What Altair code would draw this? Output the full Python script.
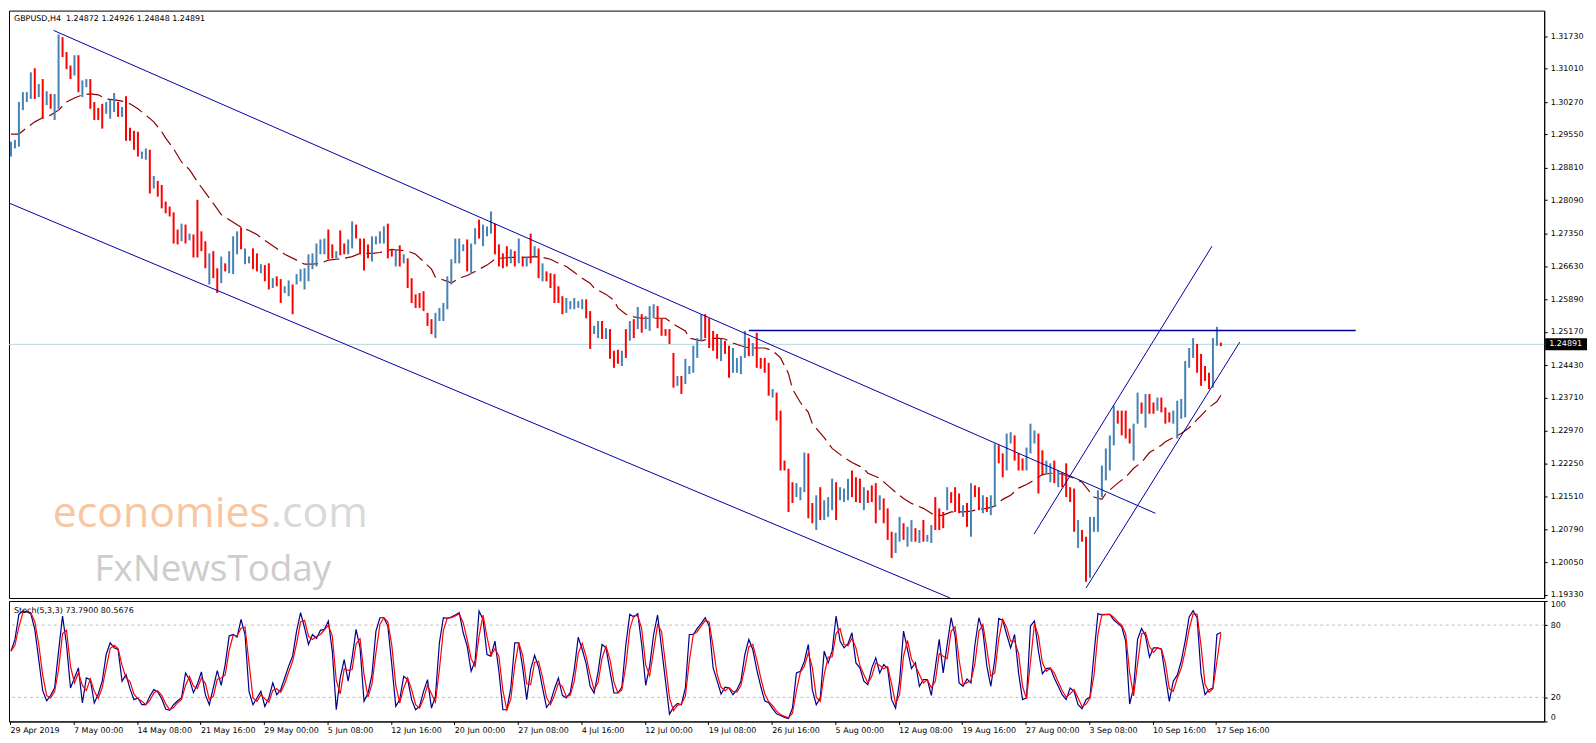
import json
import altair as alt
import pandas as pd

# ---------------- data ----------------
# H4 bars (merged pairs), highs / lows and direction (u = up bar, d = down bar)
bar_high = [
1.2939,1.2943,1.3027,1.3049,1.3049,1.3093,1.3102,1.3067,1.3078,1.3051,
1.3045,1.3045,1.3177,1.3171,1.3138,1.3108,1.3131,1.3131,1.3075,1.3078,
1.3078,1.3027,1.3014,1.3023,1.3027,1.3032,1.3047,1.3027,1.3016,1.3040,
1.2970,1.2963,1.2961,1.2917,1.2924,1.2921,1.2863,1.2852,1.2843,1.2806,
1.2795,1.2782,1.2744,1.2757,1.2755,1.2735,1.2733,1.2810,1.2740,1.2718,
1.2691,1.2696,1.2658,1.2684,1.2669,1.2696,1.2729,1.2740,1.2749,1.2702,
1.2684,1.2702,1.2691,1.2667,1.2665,1.2669,1.2636,1.2640,1.2634,1.2618,
1.2631,1.2622,1.2645,1.2656,1.2658,1.2689,1.2691,1.2713,1.2722,1.2724,
1.2744,1.2711,1.2696,1.2742,1.2713,1.2722,1.2762,1.2755,1.2724,1.2724,
1.2711,1.2729,1.2729,1.2740,1.2751,1.2757,1.2700,1.2700,1.2709,1.2689,
1.2680,1.2636,1.2600,1.2603,1.2607,1.2559,1.2545,1.2559,1.2570,1.2581,
1.2640,1.2678,1.2724,1.2724,1.2711,1.2722,1.2713,1.2747,1.2766,1.2755,
1.2751,1.2784,1.2757,1.2711,1.2691,1.2707,1.2700,1.2696,1.2724,1.2684,
1.2684,1.2735,1.2707,1.2702,1.2669,1.2651,1.2647,1.2645,1.2618,1.2596,
1.2592,1.2585,1.2592,1.2585,1.2589,1.2589,1.2563,1.2530,1.2541,1.2541,
1.2525,1.2523,1.2475,1.2477,1.2475,1.2523,1.2541,1.2545,1.2572,1.2556,
1.2552,1.2574,1.2578,1.2574,1.2547,1.2523,1.2523,1.2470,1.2419,1.2419,
1.2457,1.2441,1.2486,1.2503,1.2556,1.2556,1.2547,1.2519,1.2512,1.2501,
1.2497,1.2486,1.2481,1.2459,1.2463,1.2519,1.2503,1.2492,1.2515,1.2459,
1.2459,1.2448,1.2390,1.2382,1.2342,1.2231,1.2213,1.2183,1.2181,1.2172,
1.2249,1.2247,1.2137,1.2154,1.2172,1.2143,1.2150,1.2191,1.2183,1.2172,
1.2169,1.2191,1.2209,1.2194,1.2191,1.2172,1.2165,1.2176,1.2181,1.2154,
1.2147,1.2125,1.2073,1.2071,1.2106,1.2092,1.2084,1.2099,1.2081,1.2077,
1.2099,1.2066,1.2088,1.2150,1.2125,1.2117,1.2172,1.2161,1.2172,1.2158,
1.2132,1.2137,1.2181,1.2176,1.2172,1.2154,1.2150,1.2154,1.2269,1.2265,
1.2247,1.2291,1.2294,1.2287,1.2247,1.2236,1.2260,1.2313,1.2298,1.2291,
1.2254,1.2231,1.2225,1.2231,1.2209,1.2205,1.2225,1.2172,1.2169,1.2099,
1.2077,1.2062,1.2106,1.2106,1.2165,1.2220,1.2258,1.2287,1.2353,1.2342,
1.2342,1.2342,1.2302,1.2313,1.2382,1.2360,1.2379,1.2379,1.2360,1.2371,
1.2371,1.2349,1.2338,1.2342,1.2364,1.2368,1.2452,1.2481,1.2503,1.2490,
1.2468,1.2441,1.2426,1.2503,1.2528,1.2493]

bar_low = [
1.2906,1.2924,1.2928,1.3009,1.3027,1.3034,1.3034,1.3038,1.2990,1.3020,
1.3012,1.2987,1.3012,1.3127,1.3100,1.3078,1.3086,1.3049,1.3038,1.3060,
1.3012,1.2987,1.2987,1.2968,1.3001,1.2990,1.3005,1.2994,1.2994,1.2941,
1.2941,1.2921,1.2906,1.2901,1.2899,1.2824,1.2835,1.2817,1.2791,1.2780,
1.2773,1.2713,1.2711,1.2718,1.2713,1.2720,1.2682,1.2682,1.2696,1.2658,
1.2622,1.2636,1.2603,1.2625,1.2651,1.2647,1.2645,1.2689,1.2700,1.2667,
1.2669,1.2656,1.2651,1.2647,1.2629,1.2611,1.2614,1.2618,1.2581,1.2603,
1.2596,1.2556,1.2622,1.2629,1.2611,1.2629,1.2656,1.2662,1.2689,1.2689,
1.2678,1.2680,1.2680,1.2687,1.2689,1.2689,1.2702,1.2724,1.2689,1.2653,
1.2680,1.2673,1.2711,1.2713,1.2713,1.2680,1.2684,1.2662,1.2662,1.2669,
1.2614,1.2581,1.2570,1.2570,1.2563,1.2530,1.2512,1.2503,1.2541,1.2541,
1.2567,1.2622,1.2669,1.2669,1.2696,1.2651,1.2645,1.2711,1.2724,1.2707,
1.2729,1.2735,1.2689,1.2662,1.2658,1.2662,1.2669,1.2662,1.2669,1.2662,
1.2662,1.2669,1.2684,1.2636,1.2629,1.2629,1.2614,1.2581,1.2581,1.2556,
1.2559,1.2567,1.2567,1.2570,1.2567,1.2547,1.2479,1.2512,1.2503,1.2501,
1.2501,1.2457,1.2437,1.2446,1.2441,1.2459,1.2497,1.2503,1.2523,1.2515,
1.2523,1.2519,1.2547,1.2525,1.2508,1.2508,1.2490,1.2393,1.2397,1.2379,
1.2401,1.2423,1.2426,1.2459,1.2497,1.2503,1.2481,1.2475,1.2457,1.2452,
1.2468,1.2415,1.2426,1.2426,1.2423,1.2459,1.2463,1.2463,1.2437,1.2435,
1.2426,1.2375,1.2371,1.2320,1.2209,1.2209,1.2117,1.2137,1.2150,1.2143,
1.2161,1.2103,1.2092,1.2077,1.2099,1.2099,1.2106,1.2121,1.2099,1.2143,
1.2139,1.2143,1.2150,1.2139,1.2137,1.2121,1.2137,1.2139,1.2092,1.2121,
1.2092,1.2055,1.2015,1.2026,1.2051,1.2055,1.2040,1.2051,1.2051,1.2048,
1.2051,1.2051,1.2048,1.2077,1.2077,1.2081,1.2121,1.2137,1.2117,1.2114,
1.2106,1.2084,1.2062,1.2150,1.2121,1.2114,1.2117,1.2110,1.2128,1.2225,
1.2194,1.2209,1.2269,1.2231,1.2209,1.2209,1.2209,1.2247,1.2269,1.2158,
1.2198,1.2202,1.2183,1.2181,1.2172,1.2172,1.2150,1.2139,1.2073,1.2037,
1.2051,1.1962,1.1971,1.2073,1.2073,1.2150,1.2187,1.2209,1.2265,1.2313,
1.2287,1.2280,1.2269,1.2231,1.2313,1.2335,1.2304,1.2335,1.2335,1.2342,
1.2338,1.2313,1.2316,1.2313,1.2280,1.2324,1.2327,1.2437,1.2459,1.2426,
1.2397,1.2408,1.2390,1.2393,1.2486,1.2485]

bar_dir = ("uuuuuududu" "duuddduduu" "dddduuudud" "ddduududdd" "dddududddd"
           "udduduuudu" "uddudduddu" "uduuuuuuuu" "ddudduuddd" "duuuuddudu"
           "ddddddduuu" "uuuuuduudu" "uuddddudud" "udududdddd" "uuuuudduud"
           "udddududud" "uuudddddud" "uuuuuddddu" "dduuuududd" "dduddddduu"
           "udduduuudu" "uudddudddu" "ddduuduudu" "duuddduddd" "ududduduud"
           "duuddduuud" "duududdddu" "dduuuuuuud" "ddduududdu" "ddduuuuuud"
           "ddduud")

# moving average (dashed), read at bar positions
ma_bar = [0,2,4,6,8,10,12,14,16,18,20,22,24,26,28,30,32,34,36,38,
          39,41,43,45,47,49,51,53,56,58,60,62,64,67,69,72,74,76,78,80,
          82,84,86,88,91,93,96,98,100,102,104,106,107,110,111,113,115,117,120,122,
          123,126,128,130,132,134,136,138,140,142,144,146,147,150,152,153,155,157,159,161,
          163,165,167,170,171,174,176,178,180,182,184,186,188,190,192,194,196,197,199,201,
          202,205,207,210,212,215,216,219,221,223,225,227,230,232,233,235,237,240,242,244,
          246,248,250,252,254,256,257,260,262,264,266,268,270,272,273,275,276,279,281,283,
          285,287,290,291,293,295,297,300,302,304,305]
ma_val = [1.2956,1.2956,1.2970,1.2983,1.2992,1.2998,1.3009,1.3027,1.3036,1.3043,
          1.3045,1.3043,1.3034,1.3032,1.3029,1.3023,1.3012,1.2998,1.2983,1.2961,
          1.2947,1.2923,1.2894,1.2877,1.2850,1.2826,1.2802,1.2777,1.2760,1.2749,
          1.2742,1.2733,1.2720,1.2702,1.2689,1.2676,1.2667,1.2667,1.2669,1.2676,
          1.2678,1.2680,1.2684,1.2691,1.2691,1.2693,1.2700,1.2698,1.2696,1.2689,
          1.2673,1.2656,1.2638,1.2629,1.2625,1.2636,1.2642,1.2651,1.2665,1.2678,
          1.2680,1.2682,1.2682,1.2682,1.2684,1.2682,1.2678,1.2669,1.2662,1.2649,
          1.2636,1.2625,1.2614,1.2600,1.2587,1.2570,1.2556,1.2550,1.2547,1.2547,
          1.2547,1.2547,1.2534,1.2519,1.2503,1.2497,1.2501,1.2503,1.2501,1.2492,
          1.2486,1.2481,1.2481,1.2481,1.2475,1.2459,1.2424,1.2390,1.2360,1.2338,
          1.2313,1.2282,1.2258,1.2238,1.2227,1.2214,1.2203,1.2192,1.2176,1.2161,
          1.2147,1.2136,1.2125,1.2114,1.2108,1.2110,1.2117,1.2117,1.2119,1.2123,
          1.2125,1.2130,1.2145,1.2154,1.2170,1.2178,1.2183,1.2200,1.2203,1.2203,
          1.2198,1.2192,1.2183,1.2161,1.2150,1.2145,1.2158,1.2181,1.2194,1.2214,
          1.2227,1.2249,1.2265,1.2273,1.2282,1.2291,1.2304,1.2331,1.2349,1.2362,
          1.2376]

# drawn trend lines: (bar, price) end points
line_name  = ["chan_top", "chan_top", "chan_bot", "chan_bot",
              "rise_top", "rise_top", "rise_bot", "rise_bot"]
line_bar   = [10.75, 288.5, -0.3, 236.75, 257.9, 302.75, 271.0, 309.75]
line_price = [1.3186, 1.2114, 1.2802, 1.1926, 1.2068, 1.2707, 1.1948, 1.2494]
resist_bar = [186.0, 339.0]
resist_price = [1.2520, 1.2520]

last_price = 1.24891

# stochastic %K (blue), per bar
stoch_k = [
58.4,68.1,88.9,91.7,91.1,89.5,76.4,51.4,25.6,17.2,
21.7,27.8,58.4,87.5,63.9,27.8,36.1,44.5,15.3,36.1,
34.7,15.3,22.8,33.4,55.6,65.3,61.1,59.7,33.4,38.9,
27.2,18.1,19.5,13.9,13.9,20.9,26.4,24.5,18.9,10.3,
9.2,13.9,17.2,19.5,40.3,34.7,23.9,31.1,41.1,22.2,
13.9,27.8,42.2,30.0,47.2,70.9,72.2,70.0,84.7,72.2,
25.0,13.9,19.5,25.0,12.5,19.5,32.0,22.2,26.4,36.1,
45.9,54.2,75.0,90.3,77.8,63.9,72.2,68.9,75.6,76.4,
83.4,58.4,9.7,36.1,51.4,33.4,52.8,76.4,61.1,16.7,
23.6,38.9,75.0,86.1,86.1,79.2,47.2,12.5,18.1,37.5,
34.7,18.1,
9.7,12.5,25.0,34.7,11.1,20.9,65.3,86.1,85.6,86.7,
88.4,90.3,73.6,62.5,41.7,50.0,91.7,84.7,55.6,54.2,
66.7,41.7,9.7,9.7,27.8,65.3,65.3,44.5,18.1,43.1,
55.0,45.0,27.8,11.7,16.1,27.2,36.1,21.7,19.5,24.2,
43.1,70.0,59.7,47.8,29.2,23.6,41.1,63.9,61.1,41.7,
23.6,23.6,28.6,63.9,88.9,86.7,89.5,63.9,30.0,45.9,
72.2,88.4,61.1,33.4,6.1,11.7,15.0,13.9,27.8,72.2,
72.2,77.2,81.4,86.1,79.2,44.5,33.9,22.8,28.4,27.8,
22.2,26.4,33.4,55.6,68.1,59.7,43.1,29.2,17.2,15.6,
10.6,6.4,5.0,3.4,2.5,11.1,40.3,41.7,50.0,63.9,
26.4,13.9,
19.5,58.4,48.6,58.4,87.5,66.7,61.1,64.5,73.6,48.6,
44.5,33.4,30.6,44.5,52.8,40.3,47.2,43.9,18.1,11.1,
33.4,75.0,59.7,43.9,48.6,29.2,34.7,34.7,21.7,44.5,
68.1,40.3,63.9,86.1,70.9,32.0,29.2,35.3,32.0,63.9,
86.1,75.0,45.9,29.2,51.4,85.6,83.9,72.2,61.1,72.2,
40.3,18.1,19.5,79.2,83.4,58.4,39.5,43.9,44.5,36.1,
29.2,22.2,18.1,27.8,25.0,13.9,10.6,18.1,20.3,55.6,
89.5,88.4,88.9,88.9,84.2,81.4,78.6,66.7,14.5,27.8,
68.1,77.2,70.9,53.4,61.1,61.1,59.7,37.5,16.7,33.4,
38.4,50.0,66.7,86.7,92.0,86.1,39.5,22.2,26.4,27.8,
72.2,73.8]

stoch_levels = [20, 80]

price_ticks = [1.1933, 1.2005, 1.2079, 1.2151, 1.2225, 1.2297, 1.2371, 1.2443, 1.2517,
               1.2589, 1.2663, 1.2735, 1.2809, 1.2881, 1.2955, 1.3027, 1.3101, 1.3173]
stoch_ticks = [0, 20, 80, 100]
date_labels = ["29 Apr 2019", "7 May 00:00", "14 May 08:00", "21 May 16:00", "29 May 00:00",
               "5 Jun 08:00", "12 Jun 16:00", "20 Jun 00:00", "27 Jun 08:00", "4 Jul 16:00",
               "12 Jul 00:00", "19 Jul 08:00", "26 Jul 16:00", "5 Aug 00:00", "12 Aug 08:00",
               "19 Aug 16:00", "27 Aug 00:00", "3 Sep 08:00", "10 Sep 16:00", "17 Sep 16:00"]
bars_per_label = 16
title_text = "GBPUSD,H4\u00a0\u00a01.24872 1.24926 1.24848 1.24891"
stoch_text = "Stoch(5,3,3) 73.7900 80.5676"

# ---------------- chart ----------------
W = 1542
H_MAIN = 590
H_STO = 121
FONT = "DejaVu Sans"
BLUE_BAR = "#4682b4"
RED = "#ff0000"
NAVY = "#0000a0"

n = min(len(bar_high), len(bar_low), len(bar_dir))
bars = pd.DataFrame({"bar": list(range(n)), "high": bar_high[:n],
                     "low": bar_low[:n], "dir": list(bar_dir[:n])})
ma = pd.DataFrame({"bar": ma_bar, "ma": ma_val})
lines = pd.DataFrame({"name": line_name, "bar": line_bar, "price": line_price})
resist = pd.DataFrame({"bar": resist_bar, "price": resist_price})
lastdf = pd.DataFrame({"price": [last_price], "label": [f"{last_price:.5f}"]})
sto = pd.DataFrame({"bar": list(range(len(stoch_k))), "k": stoch_k})
lv = pd.DataFrame({"lvl": stoch_levels})

xs = alt.Scale(domain=[-0.5, 386.5], nice=False, zero=False)
ys = alt.Scale(domain=[1.1926, 1.3230], nice=False, zero=False)
ss = alt.Scale(domain=[0, 100], nice=False, zero=False)

yax = alt.Axis(orient="right", values=price_ticks, format=".5f", title=None, grid=False,
               tickSize=3, labelPadding=3, labelFont=FONT, labelFontSize=8,
               labelColor="black", tickColor="black", domainColor="black")
sax = alt.Axis(orient="right", values=stoch_ticks, format="d", title=None, grid=False,
               tickSize=3, labelPadding=3, labelFlush=True, labelFont=FONT, labelFontSize=8,
               labelColor="black", tickColor="black", domainColor="black")
tick_vals = [bars_per_label * k - 0.25 for k in range(len(date_labels))]
label_expr = json.dumps(date_labels) + f"[round((datum.value + 0.25) / {bars_per_label})]"
xax = alt.Axis(orient="bottom", values=tick_vals, labelExpr=label_expr, title=None, grid=False,
               tickSize=3, labelPadding=2, labelAlign="left", labelBaseline="top",
               labelFlush=False, labelOverlap=False, labelFont=FONT, labelFontSize=8,
               labelColor="black", tickColor="black", domainColor="black")

X = alt.X("bar:Q", scale=xs, axis=None)

cur_line = alt.Chart(lastdf).mark_rule(color="#b4d8dc", strokeWidth=1).encode(
    y=alt.Y("price:Q", scale=ys, axis=yax))

bar_layer = alt.Chart(bars).mark_rule(strokeWidth=2).encode(
    x=X,
    y=alt.Y("low:Q", scale=ys, axis=yax),
    y2="high:Q",
    color=alt.Color("dir:N", scale=alt.Scale(domain=["u", "d"], range=[BLUE_BAR, RED]), legend=None),
)

ma_layer = alt.Chart(ma).mark_line(color="#8b0000", strokeWidth=1.2, strokeDash=[16, 6]).encode(
    x=X, y=alt.Y("ma:Q", scale=ys, axis=yax))

trend_layer = alt.Chart(lines).mark_line(color=NAVY, strokeWidth=1, clip=True).encode(
    x=X, y=alt.Y("price:Q", scale=ys, axis=yax), detail="name:N")

resist_layer = alt.Chart(resist).mark_line(color=NAVY, strokeWidth=1.6, clip=True).encode(
    x=X, y=alt.Y("price:Q", scale=ys, axis=yax))

box_layer = alt.Chart(lastdf).mark_tick(orient="horizontal", size=42, thickness=12,
                                        color="black", opacity=1).encode(
    x=alt.value(W + 22), y=alt.Y("price:Q", scale=ys, axis=yax))
box_text = alt.Chart(lastdf).mark_text(align="left", baseline="middle", color="white",
                                       font=FONT, fontSize=8).encode(
    x=alt.value(W + 5), y=alt.Y("price:Q", scale=ys, axis=yax), text="label:N")

wm1 = alt.Chart(pd.DataFrame({"t": ["economies"]})).mark_text(
    align="left", baseline="alphabetic", font="Open Sans", fontSize=43, color="#f8c6a0").encode(
    x=alt.value(44), y=alt.value(519), text="t:N")
wm2 = alt.Chart(pd.DataFrame({"t": [".com"]})).mark_text(
    align="left", baseline="alphabetic", font="Open Sans", fontSize=43, color="#d9d9d9").encode(
    x=alt.value(263), y=alt.value(519), text="t:N")
wm3 = alt.Chart(pd.DataFrame({"t": ["FxNewsToday"]})).mark_text(
    align="left", baseline="alphabetic", font="Open Sans", fontSize=37, color="#cdcdcd").encode(
    x=alt.value(86), y=alt.value(573), text="t:N")

title_layer = alt.Chart(pd.DataFrame({"t": [title_text]})).mark_text(
    align="left", baseline="alphabetic", font=FONT, fontSize=8, color="black").encode(
    x=alt.value(5), y=alt.value(10), text="t:N")

main = alt.layer(wm1, wm2, wm3, cur_line, ma_layer, bar_layer, trend_layer, resist_layer,
                 box_layer, box_text, title_layer).properties(width=W, height=H_MAIN)

XS = alt.X("bar:Q", scale=xs, axis=xax)
lvl_layer = alt.Chart(lv).mark_rule(color="#c0c0c0", strokeWidth=1, strokeDash=[3, 3]).encode(
    y=alt.Y("lvl:Q", scale=ss, axis=sax))
k_layer = alt.Chart(sto).mark_line(color="#00008b", strokeWidth=1.2).encode(
    x=XS, y=alt.Y("k:Q", scale=ss, axis=sax))
d_layer = alt.Chart(sto).transform_window(d="mean(k)", frame=[-1, 0]).mark_line(
    color=RED, strokeWidth=1.2).encode(x=XS, y=alt.Y("d:Q", scale=ss, axis=sax))
sto_text = alt.Chart(pd.DataFrame({"t": [stoch_text]})).mark_text(
    align="left", baseline="alphabetic", font=FONT, fontSize=8, color="black").encode(
    x=alt.value(5), y=alt.value(12), text="t:N")

stoch = alt.layer(lvl_layer, k_layer, d_layer, sto_text).properties(width=W, height=H_STO)

chart = alt.vconcat(main, stoch, spacing=3, bounds="flush", padding=0,
                    background="white").configure_view(stroke="black", strokeWidth=1)

chart.save("out.html", embed_options={"renderer": "svg", "actions": False})
